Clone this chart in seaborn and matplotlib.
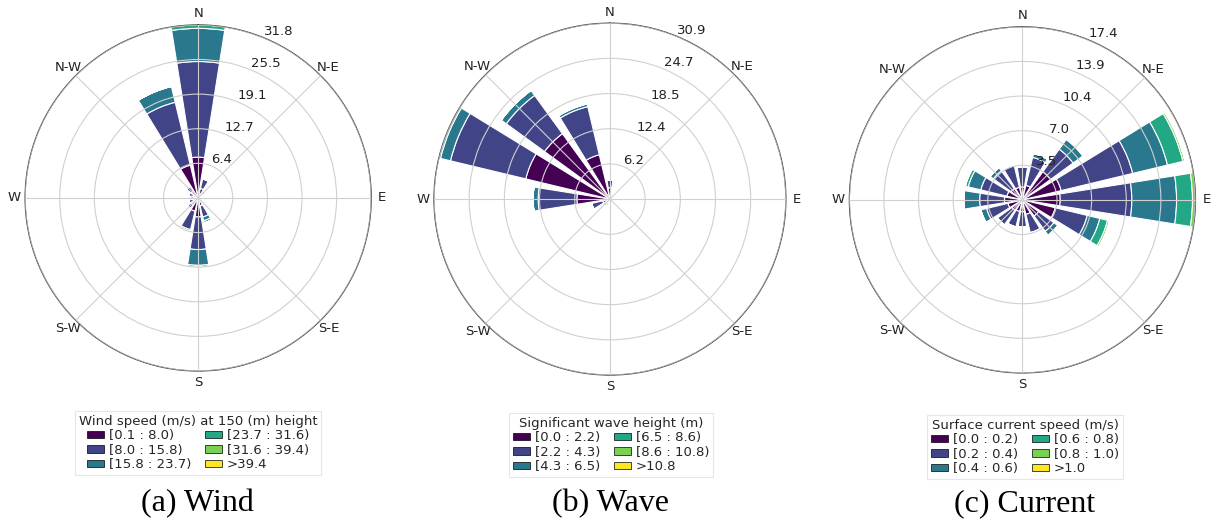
import numpy as np
import matplotlib
matplotlib.use("Agg")
import matplotlib.pyplot as plt
from matplotlib.patches import Patch
import seaborn as sns

sns.set_theme(style="white")
plt.rcParams["font.family"] = ["DejaVu Sans"]

# 16 compass sectors, clockwise from north
directions = ["N", "NNE", "NE", "ENE", "E", "ESE", "SE", "SSE",
              "S", "SSW", "SW", "WSW", "W", "WNW", "NW", "NNW"]

# Wind: frequency (%) per sector for each speed class
wind_labels = ["[0.1 : 8.0)", "[8.0 : 15.8)", "[15.8 : 23.7)",
               "[23.7 : 31.6)", "[31.6 : 39.4)", ">39.4"]
wind_b1 = [7.5, 1.8, 1.0, 0.6, 0.4, 0.5, 0.8, 1.5, 3.5, 2.5, 1.5, 1.0, 0.8, 1.0, 1.5, 6.2]
wind_b2 = [17.6, 1.8, 0.6, 0.2, 0.2, 0.3, 0.4, 2.1, 6.0, 3.5, 0.9, 0.8, 0.6, 0.8, 1.1, 11.9]
wind_b3 = [6.1, 0.0, 0.0, 0.0, 0.0, 0.0, 0.0, 0.7, 2.9, 0.3, 0.0, 0.0, 0.0, 0.0, 0.0, 3.0]
wind_b4 = [0.64, 0.0, 0.0, 0.0, 0.0, 0.0, 0.0, 0.4, 0.3, 0.0, 0.0, 0.0, 0.0, 0.0, 0.0, 0.0]
wind_b5 = [0.0] * 16
wind_b6 = [0.0] * 16

# Wave: frequency (%) per sector for each significant wave height class
wave_labels = ["[0.0 : 2.2)", "[2.2 : 4.3)", "[4.3 : 6.5)",
               "[6.5 : 8.6)", "[8.6 : 10.8)", ">10.8"]
wave_b1 = [2.0, 0.5, 0.3, 0.2, 0.2, 0.2, 0.2, 0.3, 0.5, 0.7, 0.8, 1.3, 5.8, 15.2, 14.2, 8.0]
wave_b2 = [1.3, 0.3, 0.2, 0.2, 0.1, 0.1, 0.1, 0.2, 0.3, 0.5, 0.7, 2.0, 6.8, 13.6, 8.3, 8.7]
wave_b3 = [0.0, 0.0, 0.0, 0.0, 0.0, 0.0, 0.0, 0.0, 0.0, 0.0, 0.0, 0.0, 0.9, 1.8, 1.1, 0.5]
wave_b4 = [0.0, 0.0, 0.0, 0.0, 0.0, 0.0, 0.0, 0.0, 0.0, 0.0, 0.0, 0.0, 0.0, 0.3, 0.0, 0.0]
wave_b5 = [0.0] * 16
wave_b6 = [0.0] * 16

# Current: frequency (%) per sector for each surface current speed class
current_labels = ["[0.0 : 0.2)", "[0.2 : 0.4)", "[0.4 : 0.6)",
                  "[0.6 : 0.8)", "[0.8 : 1.0)", ">1.0"]
current_b1 = [1.3, 1.5, 3.5, 4.0, 3.8, 3.4, 2.0, 1.5, 1.2, 1.2, 1.3, 1.5, 1.8, 1.6, 1.4, 1.3]
current_b2 = [2.0, 2.9, 2.8, 7.4, 7.2, 3.3, 1.9, 1.9, 1.5, 1.6, 1.8, 2.2, 2.5, 2.7, 2.2, 2.3]
current_b3 = [0.0, 0.4, 1.2, 3.6, 4.5, 1.3, 0.5, 0.0, 0.0, 0.0, 0.0, 0.6, 1.6, 1.3, 0.4, 0.0]
current_b4 = [0.0, 0.0, 0.1, 1.6, 1.6, 0.8, 0.0, 0.0, 0.0, 0.0, 0.0, 0.0, 0.0, 0.3, 0.0, 0.0]
current_b5 = [0.0, 0.0, 0.0, 0.2, 0.3, 0.2, 0.0, 0.0, 0.0, 0.0, 0.0, 0.0, 0.0, 0.0, 0.0, 0.0]
current_b6 = [0.0] * 16

panels = [
    dict(bins=[wind_b1, wind_b2, wind_b3, wind_b4, wind_b5, wind_b6],
         labels=wind_labels, title="Wind speed (m/s) at 150 (m) height",
         caption="(a) Wind", rect=[0.0206, 0.2947, 0.285, 0.658],
         legend_xy=(198, 443), caption_x=197),
    dict(bins=[wave_b1, wave_b2, wave_b3, wave_b4, wave_b5, wave_b6],
         labels=wave_labels, title="Significant wave height (m)",
         caption="(b) Wave", rect=[0.357, 0.287, 0.29, 0.669],
         legend_xy=(611, 445), caption_x=611),
    dict(bins=[current_b1, current_b2, current_b3, current_b4, current_b5, current_b6],
         labels=current_labels, title="Surface current speed (m/s)",
         caption="(c) Current", rect=[0.699, 0.291, 0.285, 0.658],
         legend_xy=(1025, 447), caption_x=1025),
]

W, H = 1215, 526
fig = plt.figure(figsize=(W / 100, H / 100), dpi=100)

colors = sns.color_palette("viridis", as_cmap=True)(np.linspace(0, 1, 6))
n = len(directions)
theta = np.deg2rad(np.arange(n) * 360.0 / n)
width = np.deg2rad(360.0 / n) * 0.8
compass = ["N", "N-E", "E", "S-E", "S", "S-W", "W", "N-W"]

for p in panels:
    ax = fig.add_axes(p["rect"], projection="polar")
    ax.set_theta_zero_location("N")
    ax.set_theta_direction(-1)
    data = np.array(p["bins"], dtype=float)
    bottom = np.zeros(n)
    for k in range(data.shape[0]):
        ax.bar(theta, data[k], width=width, bottom=bottom, color=colors[k],
               edgecolor="white", linewidth=0.8, align="center", zorder=1)
        bottom += data[k]
    rmax = bottom.max()
    ax.set_ylim(0, rmax)
    radii = np.linspace(0, rmax, 6)[1:]
    ax.set_rgrids(radii, labels=["%.1f" % r for r in radii], angle=22.5,
                  fontsize=9.5, color="#222222")
    ax.set_thetagrids(np.arange(0, 360, 45), labels=compass, fontsize=9.5,
                      color="#222222")
    ax.set_axisbelow(False)
    ax.grid(True, color="#d0d0d0", linewidth=0.8)
    ax.spines["polar"].set_color("#444444")
    ax.spines["polar"].set_linewidth(0.9)
    ax.tick_params(axis="x", pad=1, length=0)

    handles = [Patch(facecolor=colors[k], edgecolor="black", linewidth=0.5)
               for k in range(6)]
    lx, ly = p["legend_xy"]
    leg = ax.legend(handles, p["labels"], title=p["title"], ncol=2,
                    loc="center", bbox_to_anchor=(lx / W, 1 - ly / H),
                    bbox_transform=fig.transFigure, fontsize=9.5,
                    title_fontsize=9.5, handlelength=1.3, handleheight=0.5,
                    handletextpad=0.4, columnspacing=1.0, labelspacing=0.1,
                    borderpad=0.3, frameon=True, fancybox=False)
    leg.get_frame().set_edgecolor("#e0e0e0")
    leg.get_frame().set_linewidth(0.8)

    fig.text(p["caption_x"] / W, 1 - 504 / H, p["caption"], ha="center",
             va="center", fontsize=23, family="Liberation Serif", color="black")

fig.savefig("out.png", dpi=100)
